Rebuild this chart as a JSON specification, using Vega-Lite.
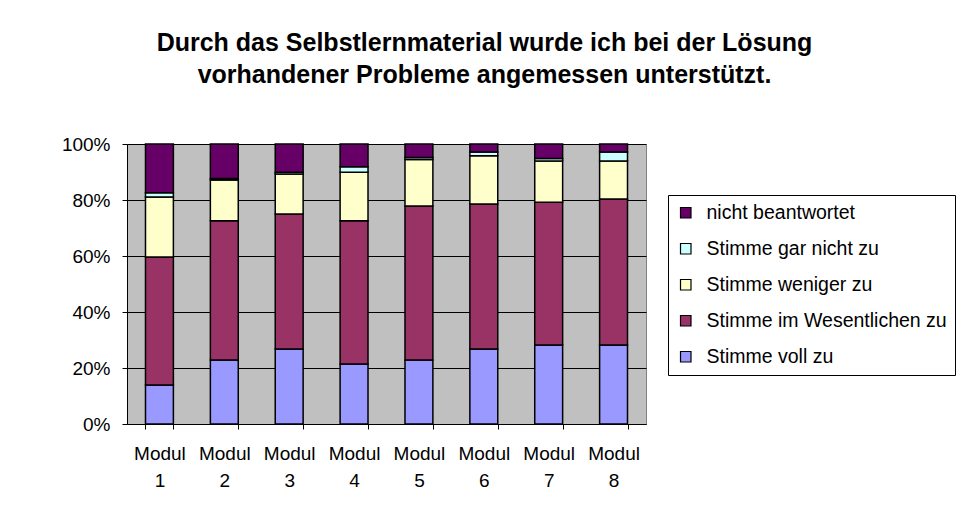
{
  "$schema": "https://vega.github.io/schema/vega-lite/v6.json",
  "width": 519,
  "height": 280,
  "autosize": "none",
  "padding": {"left": 127, "top": 144, "right": 313, "bottom": 88},
  "background": "white",
  "title": {
    "text": ["Durch das Selbstlernmaterial wurde ich bei der Lösung", "vorhandener Probleme angemessen unterstützt."],
    "font": "Liberation Sans",
    "fontSize": 25,
    "fontWeight": "bold",
    "color": "black",
    "lineHeight": 32,
    "anchor": "middle",
    "frame": "group",
    "dx": 98,
    "offset": 47
  },
  "data": {
    "values": [
      {"modul": "Modul 1", "antwort": "Stimme voll zu", "anteil": 13.9},
      {"modul": "Modul 1", "antwort": "Stimme im Wesentlichen zu", "anteil": 45.7},
      {"modul": "Modul 1", "antwort": "Stimme weniger zu", "anteil": 21.5},
      {"modul": "Modul 1", "antwort": "Stimme gar nicht zu", "anteil": 1.5},
      {"modul": "Modul 1", "antwort": "nicht beantwortet", "anteil": 17.4},
      {"modul": "Modul 2", "antwort": "Stimme voll zu", "anteil": 22.9},
      {"modul": "Modul 2", "antwort": "Stimme im Wesentlichen zu", "anteil": 49.7},
      {"modul": "Modul 2", "antwort": "Stimme weniger zu", "anteil": 14.5},
      {"modul": "Modul 2", "antwort": "Stimme gar nicht zu", "anteil": 0.6},
      {"modul": "Modul 2", "antwort": "nicht beantwortet", "anteil": 12.3},
      {"modul": "Modul 3", "antwort": "Stimme voll zu", "anteil": 26.8},
      {"modul": "Modul 3", "antwort": "Stimme im Wesentlichen zu", "anteil": 48.2},
      {"modul": "Modul 3", "antwort": "Stimme weniger zu", "anteil": 14.3},
      {"modul": "Modul 3", "antwort": "Stimme gar nicht zu", "anteil": 0.6},
      {"modul": "Modul 3", "antwort": "nicht beantwortet", "anteil": 10.1},
      {"modul": "Modul 4", "antwort": "Stimme voll zu", "anteil": 21.4},
      {"modul": "Modul 4", "antwort": "Stimme im Wesentlichen zu", "anteil": 51.2},
      {"modul": "Modul 4", "antwort": "Stimme weniger zu", "anteil": 17.3},
      {"modul": "Modul 4", "antwort": "Stimme gar nicht zu", "anteil": 2.0},
      {"modul": "Modul 4", "antwort": "nicht beantwortet", "anteil": 8.1},
      {"modul": "Modul 5", "antwort": "Stimme voll zu", "anteil": 22.9},
      {"modul": "Modul 5", "antwort": "Stimme im Wesentlichen zu", "anteil": 55.0},
      {"modul": "Modul 5", "antwort": "Stimme weniger zu", "anteil": 16.6},
      {"modul": "Modul 5", "antwort": "Stimme gar nicht zu", "anteil": 0.7},
      {"modul": "Modul 5", "antwort": "nicht beantwortet", "anteil": 4.8},
      {"modul": "Modul 6", "antwort": "Stimme voll zu", "anteil": 26.8},
      {"modul": "Modul 6", "antwort": "Stimme im Wesentlichen zu", "anteil": 51.8},
      {"modul": "Modul 6", "antwort": "Stimme weniger zu", "anteil": 17.2},
      {"modul": "Modul 6", "antwort": "Stimme gar nicht zu", "anteil": 1.3},
      {"modul": "Modul 6", "antwort": "nicht beantwortet", "anteil": 2.9},
      {"modul": "Modul 7", "antwort": "Stimme voll zu", "anteil": 28.2},
      {"modul": "Modul 7", "antwort": "Stimme im Wesentlichen zu", "anteil": 51.0},
      {"modul": "Modul 7", "antwort": "Stimme weniger zu", "anteil": 14.7},
      {"modul": "Modul 7", "antwort": "Stimme gar nicht zu", "anteil": 0.9},
      {"modul": "Modul 7", "antwort": "nicht beantwortet", "anteil": 5.2},
      {"modul": "Modul 8", "antwort": "Stimme voll zu", "anteil": 28.2},
      {"modul": "Modul 8", "antwort": "Stimme im Wesentlichen zu", "anteil": 52.2},
      {"modul": "Modul 8", "antwort": "Stimme weniger zu", "anteil": 13.5},
      {"modul": "Modul 8", "antwort": "Stimme gar nicht zu", "anteil": 3.2},
      {"modul": "Modul 8", "antwort": "nicht beantwortet", "anteil": 2.9}
    ]
  },
  "transform": [
    {"calculate": "indexof(['Stimme voll zu', 'Stimme im Wesentlichen zu', 'Stimme weniger zu', 'Stimme gar nicht zu', 'nicht beantwortet'], datum.antwort)", "as": "rang"}
  ],
  "mark": {"type": "bar", "stroke": "black", "strokeWidth": 1.5, "opacity": 1},
  "encoding": {
    "x": {
      "field": "modul",
      "type": "nominal",
      "scale": {"paddingInner": 0.57, "paddingOuter": 0.285},
      "axis": {
        "title": null,
        "labelAngle": 0,
        "labelExpr": "split(datum.label, ' ')",
        "labelFont": "Liberation Sans",
        "labelFontSize": 19,
        "labelLineHeight": 27,
        "labelColor": "black",
        "labelPadding": 15,
        "tickBand": "extent",
        "tickSize": 5,
        "tickColor": "black",
        "domainColor": "black",
        "grid": false
      }
    },
    "y": {
      "field": "anteil",
      "type": "quantitative",
      "stack": "normalize",
      "scale": {"domain": [0, 1], "nice": false},
      "axis": {
        "title": null,
        "format": ".0%",
        "values": [0, 0.2, 0.4, 0.6, 0.8, 1],
        "labelFont": "Liberation Sans",
        "labelFontSize": 19,
        "labelColor": "black",
        "labelPadding": 12,
        "tickSize": 5,
        "tickColor": "black",
        "domainColor": "black",
        "grid": true,
        "gridColor": "black",
        "gridOpacity": 1,
        "gridWidth": 1
      }
    },
    "order": {"field": "rang", "type": "quantitative", "sort": "ascending"},
    "color": {
      "field": "antwort",
      "type": "nominal",
      "scale": {
        "domain": ["Stimme voll zu", "Stimme im Wesentlichen zu", "Stimme weniger zu", "Stimme gar nicht zu", "nicht beantwortet"],
        "range": ["#9999FF", "#993366", "#FFFFCC", "#CCFFFF", "#660066"]
      },
      "legend": {
        "orient": "none",
        "legendX": 541,
        "legendY": 51,
        "title": null,
        "values": ["nicht beantwortet", "Stimme gar nicht zu", "Stimme weniger zu", "Stimme im Wesentlichen zu", "Stimme voll zu"],
        "strokeColor": "black",
        "fillColor": "white",
        "padding": 8,
        "symbolType": "square",
        "symbolSize": 110,
        "symbolStrokeColor": "black",
        "symbolStrokeWidth": 1.2,
        "symbolOpacity": 1,
        "labelFont": "Liberation Sans",
        "labelFontSize": 19.5,
        "labelColor": "black",
        "labelOffset": 11,
        "labelLimit": 400,
        "rowPadding": 15
      }
    }
  },
  "config": {
    "view": {"fill": "#C0C0C0", "stroke": "#808080", "strokeWidth": 1}
  }
}
